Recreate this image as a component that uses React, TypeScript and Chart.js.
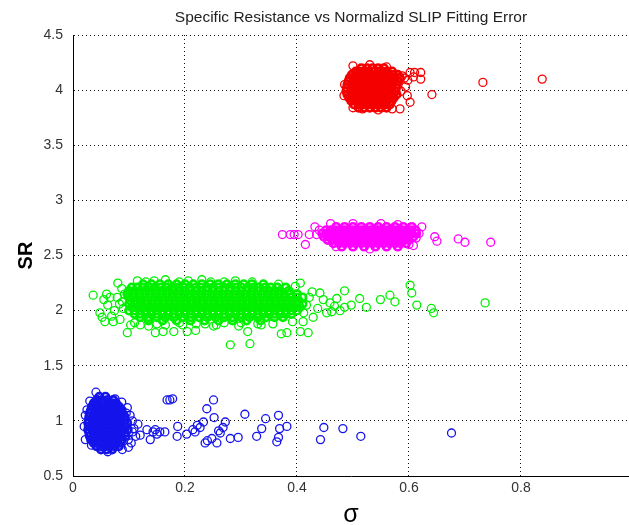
import { useEffect, useRef } from 'react';
import { Chart, registerables } from 'chart.js';

Chart.register(...registerables);

const chartTitle = 'Specific Resistance vs Normalizd SLIP Fitting Error';
const xAxisLabel = 'σ';
const yAxisLabel = 'SR';
const xTickValues = [0, 0.2, 0.4, 0.6, 0.8];
const yTickValues = [0.5, 1, 1.5, 2, 2.5, 3, 3.5, 4, 4.5];

// Dense cores: rows of [SR, sigma values]
const blueCoreRows: [number, number[]][] = [
  [1.22, [0.047, 0.058]],
  [1.19, [0.042, 0.052, 0.062, 0.072]],
  [1.16, [0.037, 0.045, 0.053, 0.061, 0.069, 0.077]],
  [1.13, [0.034, 0.042, 0.05, 0.058, 0.066, 0.074, 0.082]],
  [1.1, [0.032, 0.04, 0.048, 0.056, 0.064, 0.072, 0.08, 0.087]],
  [1.07, [0.03, 0.038, 0.046, 0.054, 0.062, 0.07, 0.078, 0.086]],
  [1.04, [0.029, 0.037, 0.045, 0.053, 0.061, 0.069, 0.077, 0.085, 0.092]],
  [1.01, [0.028, 0.036, 0.044, 0.052, 0.06, 0.068, 0.076, 0.084, 0.092]],
  [0.98, [0.027, 0.035, 0.043, 0.051, 0.059, 0.067, 0.075, 0.083, 0.091, 0.097]],
  [0.95, [0.028, 0.036, 0.044, 0.052, 0.06, 0.068, 0.076, 0.084, 0.092]],
  [0.92, [0.027, 0.035, 0.043, 0.051, 0.059, 0.067, 0.075, 0.083, 0.091, 0.098]],
  [0.89, [0.029, 0.037, 0.045, 0.053, 0.061, 0.069, 0.077, 0.085, 0.093]],
  [0.86, [0.03, 0.038, 0.046, 0.054, 0.062, 0.07, 0.078, 0.086, 0.094]],
  [0.83, [0.032, 0.04, 0.048, 0.056, 0.064, 0.072, 0.08, 0.088]],
  [0.8, [0.037, 0.045, 0.053, 0.061, 0.069, 0.077, 0.085]],
  [0.77, [0.042, 0.05, 0.058, 0.066, 0.074, 0.082]],
  [0.74, [0.05, 0.06, 0.07]],
];
const blueOutliers: [number, number][] = [
  [0.041, 1.26], [0.022, 1.05], [0.022, 0.83], [0.062, 0.72], [0.075, 1.2], [0.087, 1.17],
  [0.095, 1.07], [0.106, 0.9], [0.116, 0.97], [0.12, 0.87], [0.132, 0.92], [0.138, 0.83],
  [0.147, 0.92], [0.164, 0.9], [0.168, 1.19], [0.178, 1.2], [0.173, 1.19], [0.186, 0.86],
  [0.187, 0.95], [0.203, 0.88], [0.214, 0.92], [0.222, 0.96], [0.227, 0.94], [0.218, 0.9],
  [0.233, 0.99], [0.236, 0.8], [0.24, 0.82], [0.239, 1.11], [0.248, 0.84], [0.251, 1.19],
  [0.252, 1.03], [0.257, 0.8], [0.263, 0.89], [0.268, 0.94], [0.272, 0.99], [0.26, 0.91],
  [0.281, 0.84], [0.295, 0.85], [0.307, 1.06], [0.328, 0.86], [0.337, 0.93], [0.344, 1.02],
  [0.367, 1.05], [0.369, 0.93], [0.367, 0.85], [0.364, 0.81], [0.382, 0.95], [0.442, 0.83],
  [0.448, 0.94], [0.482, 0.93], [0.514, 0.86], [0.676, 0.89], [0.109, 0.93], [0.112, 0.86],
  [0.106, 1.0], [0.102, 1.05], [0.104, 0.8], [0.099, 0.76], [0.15, 0.88], [0.155, 0.9], [0.143, 0.9],
  [0.02, 0.95], [0.025, 1.1], [0.03, 1.18], [0.097, 1.12], [0.099, 0.83], [0.033, 0.78], [0.088, 0.74],
];

const greenCoreRows: [number, number[]][] = [
  [2.24, [0.125, 0.14, 0.155, 0.17, 0.185, 0.2, 0.215, 0.23, 0.245, 0.26, 0.275, 0.29, 0.305, 0.32, 0.34]],
  [2.21, [0.105, 0.115, 0.126, 0.136, 0.146, 0.157, 0.167, 0.177, 0.188, 0.198, 0.208, 0.219, 0.229, 0.239, 0.25, 0.26, 0.27, 0.281, 0.291, 0.301, 0.312, 0.322, 0.332, 0.343, 0.353, 0.365, 0.38]],
  [2.18, [0.1, 0.11, 0.12, 0.13, 0.14, 0.15, 0.16, 0.17, 0.18, 0.19, 0.2, 0.21, 0.22, 0.23, 0.24, 0.25, 0.26, 0.27, 0.28, 0.29, 0.3, 0.31, 0.32, 0.33, 0.34, 0.35, 0.36, 0.37, 0.385]],
  [2.15, [0.097, 0.107, 0.117, 0.127, 0.137, 0.147, 0.157, 0.167, 0.177, 0.187, 0.197, 0.207, 0.217, 0.227, 0.237, 0.247, 0.257, 0.267, 0.277, 0.287, 0.297, 0.307, 0.317, 0.327, 0.337, 0.347, 0.357, 0.367, 0.377, 0.387, 0.4]],
  [2.12, [0.1, 0.11, 0.12, 0.13, 0.14, 0.15, 0.16, 0.17, 0.18, 0.19, 0.2, 0.21, 0.22, 0.23, 0.24, 0.25, 0.26, 0.27, 0.28, 0.29, 0.3, 0.31, 0.32, 0.33, 0.34, 0.35, 0.36, 0.37, 0.38, 0.39, 0.4, 0.41]],
  [2.09, [0.103, 0.113, 0.123, 0.133, 0.143, 0.153, 0.163, 0.173, 0.183, 0.193, 0.203, 0.213, 0.223, 0.233, 0.243, 0.253, 0.263, 0.273, 0.283, 0.293, 0.303, 0.313, 0.323, 0.333, 0.343, 0.353, 0.363, 0.373, 0.383, 0.393, 0.403]],
  [2.06, [0.1, 0.11, 0.12, 0.13, 0.14, 0.15, 0.16, 0.17, 0.18, 0.19, 0.2, 0.21, 0.22, 0.23, 0.24, 0.25, 0.26, 0.27, 0.28, 0.29, 0.3, 0.31, 0.32, 0.33, 0.34, 0.35, 0.36, 0.37, 0.38, 0.39, 0.4, 0.41]],
  [2.03, [0.105, 0.115, 0.125, 0.135, 0.145, 0.155, 0.165, 0.175, 0.185, 0.195, 0.205, 0.215, 0.225, 0.235, 0.245, 0.255, 0.265, 0.275, 0.285, 0.295, 0.305, 0.315, 0.325, 0.335, 0.345, 0.355, 0.365, 0.375, 0.385, 0.395, 0.405]],
  [2.0, [0.1, 0.11, 0.12, 0.13, 0.14, 0.15, 0.16, 0.17, 0.18, 0.19, 0.2, 0.21, 0.22, 0.23, 0.24, 0.25, 0.26, 0.27, 0.28, 0.29, 0.3, 0.31, 0.32, 0.33, 0.34, 0.35, 0.36, 0.37, 0.38, 0.39, 0.4]],
  [1.97, [0.11, 0.12, 0.13, 0.14, 0.15, 0.16, 0.17, 0.18, 0.19, 0.2, 0.21, 0.22, 0.23, 0.24, 0.25, 0.26, 0.27, 0.28, 0.29, 0.3, 0.31, 0.32, 0.33, 0.34, 0.35, 0.36, 0.37, 0.38, 0.39]],
  [1.94, [0.12, 0.135, 0.15, 0.165, 0.18, 0.195, 0.21, 0.225, 0.24, 0.255, 0.27, 0.285, 0.3, 0.315, 0.33, 0.345, 0.36, 0.375]],
  [1.91, [0.135, 0.16, 0.185, 0.21, 0.235, 0.26, 0.285, 0.31, 0.335]],
];
const greenOutliers: [number, number][] = [
  [0.036, 2.14], [0.048, 1.98], [0.057, 1.9], [0.066, 2.12], [0.08, 2.25], [0.055, 2.1],
  [0.062, 2.05], [0.069, 1.95], [0.074, 2.0], [0.079, 2.12], [0.084, 1.92], [0.06, 2.15],
  [0.052, 1.94], [0.087, 2.2], [0.072, 1.9], [0.083, 2.06], [0.097, 1.8], [0.103, 1.87],
  [0.12, 1.87], [0.135, 1.86], [0.147, 1.8], [0.161, 1.81], [0.18, 1.81], [0.204, 1.81],
  [0.219, 1.82], [0.165, 1.87], [0.196, 1.87], [0.236, 1.88], [0.251, 1.86], [0.256, 1.87],
  [0.281, 1.69], [0.316, 1.7], [0.312, 1.81], [0.296, 1.86], [0.336, 1.87], [0.372, 1.79],
  [0.382, 1.8], [0.406, 1.81], [0.42, 1.8], [0.411, 1.9], [0.429, 1.94], [0.406, 2.25],
  [0.427, 2.17], [0.441, 2.16], [0.453, 1.98], [0.459, 2.07], [0.471, 2.11], [0.485, 2.18],
  [0.485, 2.03], [0.497, 2.05], [0.512, 2.11], [0.524, 2.03], [0.549, 2.1], [0.566, 2.14],
  [0.575, 2.08], [0.602, 2.23], [0.605, 2.16], [0.614, 2.05], [0.64, 2.02], [0.644, 1.98],
  [0.736, 2.07], [0.417, 2.05], [0.422, 2.12], [0.437, 2.02], [0.447, 2.1], [0.462, 1.99],
  [0.467, 2.04], [0.477, 2.0], [0.412, 1.98], [0.392, 1.9], [0.357, 1.88], [0.115, 2.27],
  [0.145, 2.27], [0.206, 2.27], [0.246, 2.26], [0.367, 2.24], [0.397, 2.22],
  [0.13, 2.26], [0.165, 2.28], [0.19, 2.26], [0.23, 2.28], [0.27, 2.26], [0.29, 2.27],
  [0.32, 2.26], [0.11, 1.89], [0.15, 1.88], [0.19, 1.89], [0.22, 1.88], [0.27, 1.89],
  [0.3, 1.89], [0.33, 1.88], [0.088, 2.08], [0.092, 2.15], [0.09, 2.02],
];

const magentaCoreRows: [number, number[]][] = [
  [2.76, [0.47, 0.485, 0.5, 0.515, 0.53, 0.545, 0.56, 0.575, 0.59, 0.605]],
  [2.73, [0.452, 0.46, 0.468, 0.476, 0.484, 0.492, 0.5, 0.508, 0.516, 0.524, 0.532, 0.54, 0.548, 0.556, 0.564, 0.572, 0.58, 0.588, 0.596, 0.604, 0.612]],
  [2.7, [0.445, 0.453, 0.461, 0.469, 0.477, 0.485, 0.493, 0.501, 0.509, 0.517, 0.525, 0.533, 0.541, 0.549, 0.557, 0.565, 0.573, 0.581, 0.589, 0.597, 0.605, 0.613]],
  [2.67, [0.448, 0.456, 0.464, 0.472, 0.48, 0.488, 0.496, 0.504, 0.512, 0.52, 0.528, 0.536, 0.544, 0.552, 0.56, 0.568, 0.576, 0.584, 0.592, 0.6, 0.608]],
  [2.64, [0.455, 0.463, 0.471, 0.479, 0.487, 0.495, 0.503, 0.511, 0.519, 0.527, 0.535, 0.543, 0.551, 0.559, 0.567, 0.575, 0.583, 0.591, 0.599]],
  [2.61, [0.465, 0.475, 0.485, 0.495, 0.505, 0.515, 0.525, 0.535, 0.545, 0.555, 0.565, 0.575, 0.585, 0.595]],
  [2.58, [0.48, 0.5, 0.52, 0.54, 0.56, 0.58]],
];
const magentaOutliers: [number, number][] = [
  [0.374, 2.69], [0.388, 2.69], [0.395, 2.69], [0.402, 2.69], [0.415, 2.6], [0.422, 2.69],
  [0.432, 2.76], [0.435, 2.69], [0.623, 2.76], [0.618, 2.7], [0.646, 2.67], [0.65, 2.63],
  [0.688, 2.65], [0.7, 2.62], [0.746, 2.62], [0.613, 2.66], [0.608, 2.59],
  [0.44, 2.73], [0.46, 2.79], [0.5, 2.79], [0.55, 2.79], [0.58, 2.78], [0.47, 2.58],
  [0.53, 2.56], [0.6, 2.6],
];

const redCoreRows: [number, number[]][] = [
  [4.2, [0.515, 0.525, 0.535, 0.545, 0.555]],
  [4.17, [0.505, 0.512, 0.52, 0.528, 0.537, 0.546, 0.553, 0.561, 0.57]],
  [4.14, [0.498, 0.506, 0.514, 0.522, 0.531, 0.539, 0.547, 0.556, 0.564, 0.572, 0.58]],
  [4.11, [0.494, 0.502, 0.51, 0.518, 0.526, 0.535, 0.543, 0.551, 0.559, 0.567, 0.575, 0.584]],
  [4.08, [0.492, 0.5, 0.508, 0.516, 0.524, 0.532, 0.541, 0.549, 0.557, 0.565, 0.573, 0.581]],
  [4.05, [0.49, 0.498, 0.506, 0.514, 0.522, 0.53, 0.538, 0.546, 0.554, 0.562, 0.57, 0.578]],
  [4.02, [0.489, 0.497, 0.505, 0.513, 0.521, 0.529, 0.537, 0.545, 0.553, 0.561, 0.569, 0.577]],
  [3.99, [0.488, 0.496, 0.504, 0.512, 0.52, 0.528, 0.536, 0.544, 0.552, 0.56, 0.568, 0.576]],
  [3.96, [0.49, 0.498, 0.506, 0.514, 0.522, 0.53, 0.538, 0.546, 0.554, 0.562, 0.57, 0.578]],
  [3.93, [0.493, 0.501, 0.509, 0.517, 0.525, 0.533, 0.541, 0.549, 0.557, 0.565, 0.573]],
  [3.9, [0.497, 0.505, 0.513, 0.521, 0.529, 0.537, 0.545, 0.553, 0.561, 0.569]],
  [3.87, [0.502, 0.51, 0.518, 0.526, 0.534, 0.542, 0.55, 0.558, 0.566]],
  [3.84, [0.51, 0.52, 0.53, 0.54, 0.55, 0.56]],
];
const redOutliers: [number, number][] = [
  [0.621, 4.16], [0.621, 4.1], [0.602, 4.16], [0.61, 4.16], [0.641, 3.96], [0.602, 3.89],
  [0.597, 3.95], [0.732, 4.07], [0.838, 4.1], [0.584, 3.83], [0.517, 3.83], [0.57, 3.83],
  [0.594, 4.03], [0.588, 4.13], [0.598, 4.09], [0.608, 4.12], [0.592, 4.11], [0.586, 3.99],
  [0.485, 4.05], [0.484, 3.95], [0.5, 4.22], [0.53, 4.23], [0.56, 4.21], [0.5, 3.84], [0.545, 3.82],
];

const rowsToPoints = (rows: [number, number[]][]) => rows.flatMap(([y, xs]) => xs.map((x) => ({ x, y })));
const pairsToPoints = (pairs: [number, number][]) => pairs.map(([x, y]) => ({ x, y }));

export default function App() {
  const canvasRef = useRef<HTMLCanvasElement | null>(null);

  useEffect(() => {
    if (!canvasRef.current) return;
    const core = (label: string, color: string, rows: [number, number[]][]) => ({
      label,
      data: rowsToPoints(rows),
      borderColor: color,
      backgroundColor: 'rgba(0,0,0,0)',
      pointRadius: 3.6,
      pointBorderWidth: 2.6,
      pointHoverRadius: 3.6,
      pointStyle: 'circle',
    });
    const outer = (label: string, color: string, pairs: [number, number][]) => ({
      label,
      data: pairsToPoints(pairs),
      borderColor: color,
      backgroundColor: 'rgba(0,0,0,0)',
      pointRadius: 4,
      pointBorderWidth: 1.3,
      pointHoverRadius: 4,
      pointStyle: 'circle',
    });
    const font = "'Liberation Sans', Arial, sans-serif";
    const blue = 'rgb(20,20,235)';
    const green = 'rgb(0,240,0)';
    const magenta = 'rgb(255,0,255)';
    const red = 'rgb(245,0,0)';
    const chart = new Chart(canvasRef.current, {
      type: 'scatter',
      data: {
        datasets: [
          core('blue core', blue, blueCoreRows),
          outer('blue', blue, blueOutliers),
          core('green core', green, greenCoreRows),
          outer('green', green, greenOutliers),
          core('magenta core', magenta, magentaCoreRows),
          outer('magenta', magenta, magentaOutliers),
          core('red core', red, redCoreRows),
          outer('red', red, redOutliers),
        ] as any,
      },
      options: {
        animation: false,
        responsive: false,
        maintainAspectRatio: false,
        layout: { padding: 0, autoPadding: false },
        plugins: {
          legend: { display: false },
          tooltip: { enabled: false },
          title: {
            display: true,
            text: chartTitle,
            fullSize: false,
            color: '#222',
            font: { family: font, size: 15.5, weight: 'normal', lineHeight: 1.2 },
            padding: { top: 8, bottom: 8.4 },
          },
        },
        scales: {
          x: {
            type: 'linear',
            min: 0,
            max: 0.993,
            afterFit: (s: any) => { s.height = 49; },
            afterBuildTicks: (s: any) => { s.ticks = xTickValues.map((v) => ({ value: v })); },
            grid: { color: '#111', lineWidth: 1, drawTicks: false },
            border: { display: true, color: '#000', width: 1, dash: [1, 3] },
            ticks: {
              color: '#333',
              font: { family: font, size: 14 },
              padding: 4,
              maxRotation: 0,
              callback: (v: any) => String(v),
            },
            title: {
              display: true,
              text: xAxisLabel,
              color: '#000',
              font: { family: font, size: 25, lineHeight: 0.8 },
              padding: { top: 0, bottom: 0 },
            },
          },
          y: {
            type: 'linear',
            min: 0.5,
            max: 4.5,
            afterFit: (s: any) => { s.width = 73; },
            afterBuildTicks: (s: any) => { s.ticks = yTickValues.map((v) => ({ value: v })); },
            grid: { color: '#111', lineWidth: 1, drawTicks: false },
            border: { display: true, color: '#000', width: 1, dash: [1, 3] },
            ticks: {
              color: '#333',
              font: { family: font, size: 14 },
              padding: 10,
              callback: (v: any) => String(v),
            },
            title: {
              display: true,
              text: yAxisLabel,
              color: '#000',
              font: { family: font, size: 20, weight: 'bold', lineHeight: 1.2 },
              padding: { top: 14, bottom: 0 },
            },
          },
        },
      } as any,
    });
    return () => chart.destroy();
  }, []);

  return (
    <div style={{ position: 'fixed', left: 0, top: 0, width: 629, height: 525, background: '#fff' }}>
      <canvas ref={canvasRef} width={629} height={525} style={{ width: 629, height: 525 }} />
    </div>
  );
}
